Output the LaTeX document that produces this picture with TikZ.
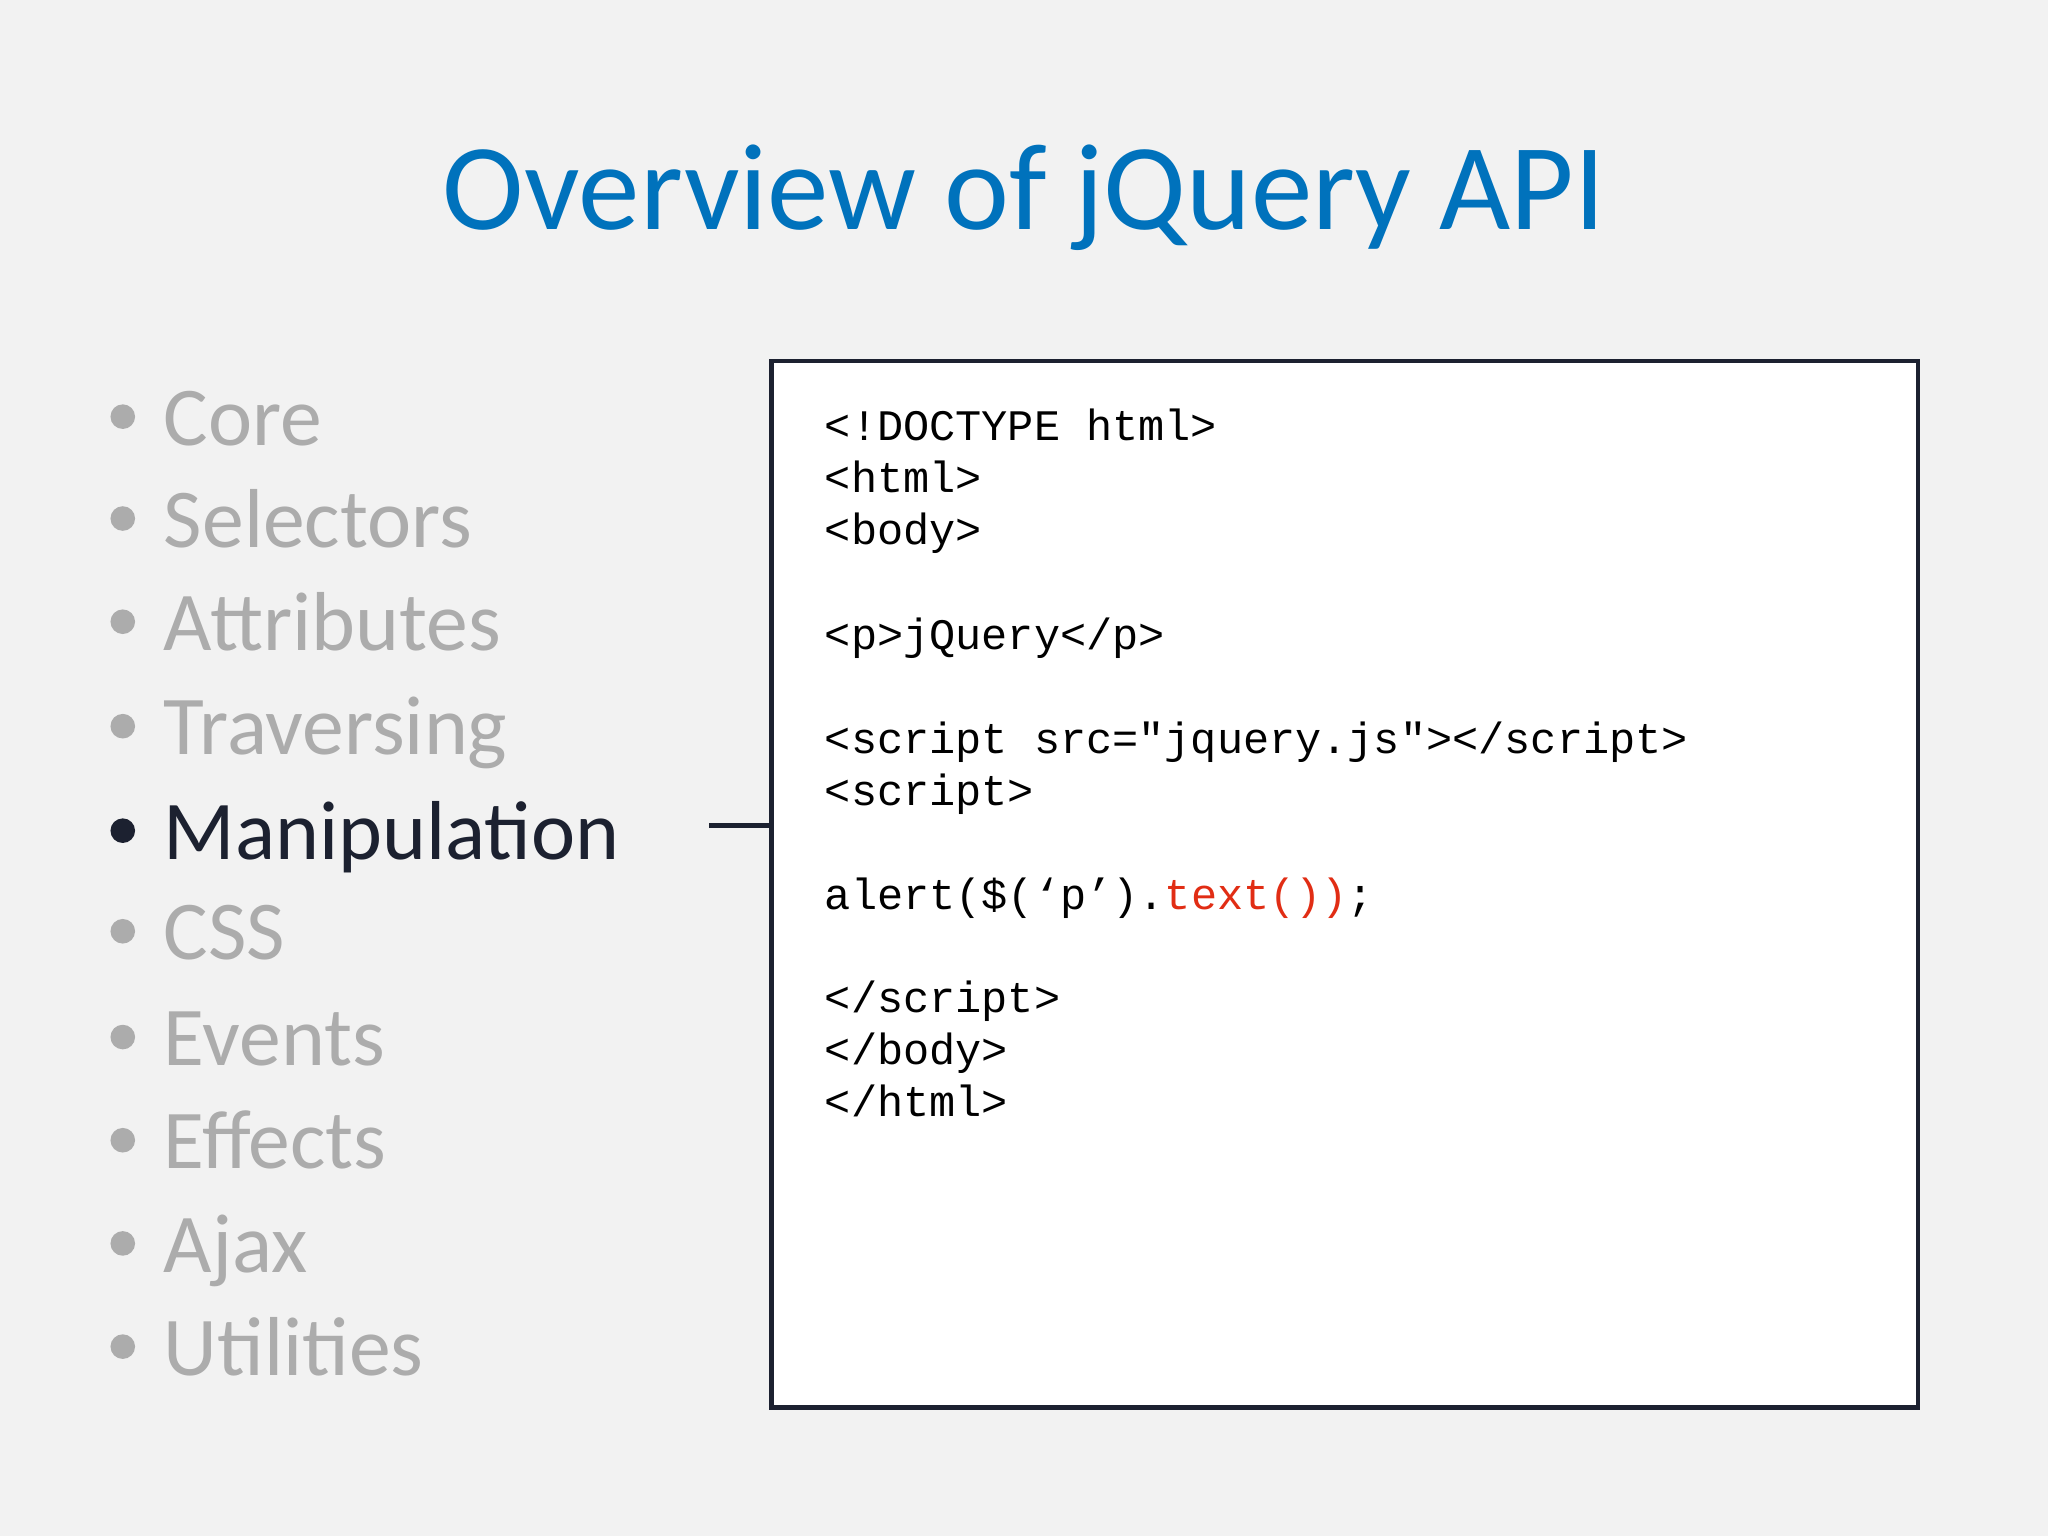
\documentclass[tikz,border=0pt]{standalone}
\usepackage{fontspec}
\setmainfont{Carlito}
\newfontfamily\codefont{Liberation Mono}
\definecolor{bg}{RGB}{242,242,242}
\definecolor{titleblue}{RGB}{0,114,188}
\definecolor{dimgray}{RGB}{172,172,172}
\definecolor{darktext}{RGB}{28,33,48}
\definecolor{codered}{RGB}{225,45,20}
\begin{document}
\begin{tikzpicture}[x=0.013061cm,y=-0.013061cm,
  item/.style={anchor=base west,inner sep=0,font=\fontsize{23.8}{28}\selectfont,text=dimgray},
  dot/.style={circle,fill=dimgray,inner sep=0,minimum size=7},
  code/.style={anchor=base west,inner sep=0,font=\codefont\fontsize{12.4}{14}\selectfont,text=black}]
\fill[bg] (0,0) rectangle (1568,1176);
\useasboundingbox (0,0) rectangle (1568,1176);
\node[inner sep=0,font=\fontsize{35}{40}\selectfont,text=titleblue,anchor=base] (title) at (784,176) {Overview of jQuery API};
\foreach \t/\y [count=\i] in {Core/341,Selectors/419,Attributes/498,Traversing/578,CSS/735,Events/816,Effects/895,Ajax/974,Utilities/1053}{
  \node[item] (b\i) at (125,\y) {\t};
  \node[dot] (d\i) at (94,\y-22) {};
}
\node[item,text=darktext] (b5) at (125,658) {Manipulation};
\node[dot,fill=darktext] (d5) at (94,636) {};
\node[draw=darktext,line width=1.2,fill=white,minimum width=11.4676cm,minimum height=10.4619cm,anchor=north west,inner sep=0] (box) at (589,275) {};
\coordinate (lnk) at (543,632);
\draw[darktext,line width=1.2] (lnk) -- (lnk -| box.west);
\node[code] (c1) at (631,337) {<!DOCTYPE html>};
\node[code] (c2) at (631,377) {<html>};
\node[code] (c3) at (631,417) {<body>};
\node[code] (c4) at (631,497) {<p>jQuery</p>};
\node[code] (c5) at (631,577) {<script src="jquery.js"></script>};
\node[code] (c6) at (631,617) {<script>};
\node[code] (c7) at (631,696) {alert(\$(‘p’).\textcolor{codered}{text())};};
\node[code] (c8) at (631,775) {</script>};
\node[code] (c9) at (631,815) {</body>};
\node[code] (c10) at (631,855) {</html>};
\end{tikzpicture}
\end{document}
